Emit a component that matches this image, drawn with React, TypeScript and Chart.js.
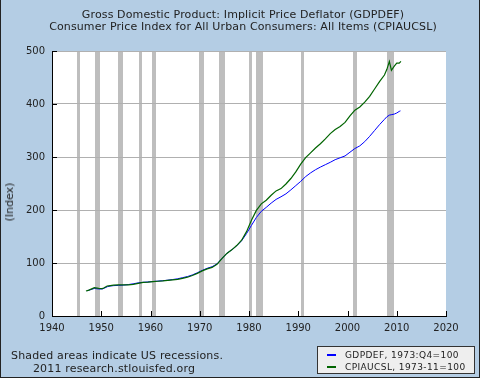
import React, { useEffect, useRef } from "react";
import { Chart, registerables } from "chart.js";
Chart.register(...registerables);

const titleLines = [
  "Gross Domestic Product: Implicit Price Deflator (GDPDEF)",
  "Consumer Price Index for All Urban Consumers: All Items (CPIAUCSL)",
];
const yAxisTitle = "(Index)";
const footnoteLines = ["Shaded areas indicate US recessions.", "2011 research.stlouisfed.org"];
const legendLabels = ["GDPDEF, 1973:Q4=100", "CPIAUCSL, 1973-11=100"];

const xTickValues = [1940, 1950, 1960, 1970, 1980, 1990, 2000, 2010, 2020];
const yTickValues = [0, 100, 200, 300, 400, 500];

const recessionStarts = [1945.08, 1948.83, 1953.5, 1957.58, 1960.25, 1969.92, 1973.83, 1980.0, 1981.5, 1990.5, 2001.17, 2007.92];
const recessionEnds = [1945.75, 1949.75, 1954.33, 1958.25, 1961.08, 1970.83, 1975.17, 1980.5, 1982.83, 1991.17, 2001.83, 2009.42];

const cpiYears = [
  1946.9, 1947.5, 1948.6, 1949.5, 1950.2, 1950.5, 1951.2, 1951.5, 1952.5, 1953.5, 1954.5, 1955.5,
  1956.5, 1957.5, 1958.5, 1959.5, 1960.5, 1961.5, 1962.5, 1963.5, 1964.5, 1965.5, 1966.5, 1967.5,
  1968.5, 1969.5, 1970.5, 1971.5, 1972.5, 1973.5, 1974.5, 1975.5, 1976.5, 1977.5, 1978.5, 1979.5,
  1980.5, 1981.5, 1982.5, 1983.5, 1984.5, 1985.5, 1986.5, 1987.5, 1988.5, 1989.5, 1990.5, 1991.5,
  1992.5, 1993.5, 1994.5, 1995.5, 1996.5, 1997.5, 1998.5, 1999.5, 2000.5, 2001.5, 2002.5, 2003.5,
  2004.5, 2005.5, 2006.5, 2007.5, 2008.0, 2008.5, 2008.92, 2009.5, 2010.0, 2010.5, 2010.85,
];
const cpiValues = [
  47.1, 48.9, 53.5, 52.2, 51.8, 52.9, 56.6, 57.0, 58.1, 58.6, 59.0, 58.8,
  59.6, 61.6, 63.4, 63.8, 64.9, 65.6, 66.2, 67.1, 68.0, 69.1, 71.1, 73.2,
  76.3, 80.5, 85.1, 88.8, 91.7, 97.4, 108.1, 118.0, 124.8, 132.9, 143.0, 159.2,
  180.7, 199.3, 211.6, 218.4, 227.9, 236.0, 240.4, 249.1, 259.4, 271.9, 286.6, 298.7,
  307.7, 316.9, 325.0, 334.2, 344.1, 352.0, 357.5, 365.4, 377.6, 388.4, 394.5, 403.5,
  414.3, 428.3, 442.1, 454.6, 465.4, 480.3, 463.6, 471.5, 477.0, 477.2, 480.5,
];

const gdpYears = [
  1947.1, 1947.6, 1948.6, 1949.5, 1950.2, 1950.6, 1951.3, 1951.8, 1952.5, 1953.5, 1954.5, 1955.5,
  1956.5, 1957.5, 1958.5, 1959.5, 1960.5, 1961.5, 1962.5, 1963.5, 1964.5, 1965.5, 1966.5, 1967.5,
  1968.5, 1969.5, 1970.5, 1971.5, 1972.5, 1973.5, 1974.5, 1975.5, 1976.5, 1977.5, 1978.5, 1979.5,
  1980.5, 1981.5, 1982.5, 1983.5, 1984.5, 1985.5, 1986.5, 1987.5, 1988.5, 1989.5, 1990.5, 1991.5,
  1992.5, 1993.5, 1994.5, 1995.5, 1996.5, 1997.5, 1998.5, 1999.5, 2000.5, 2001.5, 2002.5, 2003.5,
  2004.5, 2005.5, 2006.5, 2007.5, 2008.0, 2008.5, 2009.0, 2009.5, 2010.0, 2010.5, 2010.75,
];
const gdpValues = [
  47.5, 49.0, 52.0, 51.0, 51.0, 52.5, 55.5, 56.5, 57.3, 57.8, 58.3, 59.3,
  60.8, 62.5, 63.6, 64.2, 65.1, 65.8, 66.6, 67.6, 68.8, 70.2, 72.3, 74.4,
  77.5, 81.5, 86.0, 90.0, 93.0, 98.3, 108.5, 118.3, 124.8, 132.5, 142.0, 155.5,
  171.0, 186.0, 197.5, 205.0, 213.0, 220.0, 225.0, 230.5, 238.0, 246.0, 254.0, 263.0,
  270.0, 276.0, 281.0, 285.5, 290.0, 295.0, 298.5, 302.0, 309.0, 316.0, 321.0, 329.0,
  339.0, 350.0, 361.0, 371.0, 376.0, 379.0, 380.0, 381.0, 383.0, 386.0, 387.0,
];

const FONT = "'DejaVu Sans', Verdana, sans-serif";

export default function App() {
  const ref = useRef<HTMLCanvasElement>(null);

  useEffect(() => {
    document.body.style.margin = "0";
    const canvas = ref.current;
    if (!canvas) return;

    const fredPlugin = {
      id: "fredDecor",
      beforeDraw(chart: any) {
        const { ctx, chartArea: a, scales } = chart;
        const xs = scales.x;
        ctx.save();
        ctx.fillStyle = "#ffffff";
        ctx.fillRect(a.left, a.top, a.right - a.left, a.bottom - a.top);
        ctx.fillStyle = "#bebebe";
        for (let i = 0; i < recessionStarts.length; i++) {
          const x0 = Math.round(xs.getPixelForValue(recessionStarts[i]));
          const x1 = Math.round(xs.getPixelForValue(recessionEnds[i]));
          ctx.fillRect(x0, a.top, Math.max(3, x1 - x0), a.bottom - a.top);
        }
        ctx.restore();
      },
      afterDraw(chart: any) {
        const { ctx, chartArea: a, scales } = chart;
        ctx.save();
        ctx.strokeStyle = "#000";
        ctx.lineWidth = 1;
        ctx.beginPath();
        for (const v of xTickValues) {
          const px = Math.round(scales.x.getPixelForValue(v)) + 0.5;
          ctx.moveTo(px, a.bottom);
          ctx.lineTo(px, a.bottom - 5);
        }
        for (const v of yTickValues) {
          const py = Math.round(scales.y.getPixelForValue(v)) + 0.5;
          ctx.moveTo(a.left, py);
          ctx.lineTo(a.left + 5, py);
        }
        ctx.stroke();
        ctx.restore();
      },
    };

    const chart = new Chart(canvas, {
      type: "line",
      data: {
        datasets: [
          {
            label: legendLabels[0],
            data: gdpYears.map((x, i) => ({ x, y: gdpValues[i] })),
            borderColor: "#0000ff",
            borderWidth: 1,
            pointRadius: 0,
            tension: 0,
            fill: false,
            order: 2,
          },
          {
            label: legendLabels[1],
            data: cpiYears.map((x, i) => ({ x, y: cpiValues[i] })),
            borderColor: "#006400",
            borderWidth: 1.2,
            pointRadius: 0,
            tension: 0,
            fill: false,
            order: 1,
          },
        ],
      },
      options: {
        animation: false,
        responsive: false,
        events: [],
        layout: { padding: { left: 0, top: 51, right: 34, bottom: 0 } },
        plugins: { legend: { display: false }, title: { display: false }, tooltip: { enabled: false } },
        scales: {
          x: {
            type: "linear",
            min: 1940,
            max: 2020,
            afterFit: (s: any) => { s.height = 62; },
            afterBuildTicks: (s: any) => { s.ticks = xTickValues.map((v) => ({ value: v })); },
            ticks: { color: "#222", font: { family: FONT, size: 10 }, padding: 6, maxRotation: 0, autoSkip: false, callback: (v: any) => String(v) },
            grid: { display: false, drawTicks: false },
            border: { display: true, color: "#000", width: 1 },
          },
          y: {
            type: "linear",
            min: 0,
            max: 500,
            afterFit: (s: any) => { s.width = 52; },
            afterBuildTicks: (s: any) => { s.ticks = yTickValues.map((v) => ({ value: v })); },
            ticks: { color: "#222", font: { family: FONT, size: 10 }, padding: 7, callback: (v: any) => String(v) },
            grid: { color: "#b0b0b0", lineWidth: 1, drawTicks: false },
            border: { display: true, color: "#000", width: 1 },
          },
        },
      },
      plugins: [fredPlugin],
    } as any);

    return () => chart.destroy();
  }, []);

  const textStyle: React.CSSProperties = { position: "absolute", fontFamily: FONT, fontSize: 11, color: "#222", whiteSpace: "nowrap", lineHeight: "12px" };

  return (
    <div style={{ position: "relative", width: 480, height: 378, background: "rgb(180,205,228)", overflow: "hidden" }}>
      <canvas ref={ref} width={480} height={378} style={{ position: "absolute", left: 0, top: 0, width: 480, height: 378 }} />
      <div style={{ ...textStyle, left: 3, width: 480, top: 9, textAlign: "center", letterSpacing: "0.13px" }}>
        {titleLines.map((t) => (<div key={t}>{t}</div>))}
      </div>
      <div style={{ ...textStyle, left: 10, top: 202, transform: "translate(-50%, -50%) rotate(-90deg)" }}>{yAxisTitle}</div>
      <div style={{ ...textStyle, left: 11, width: 206, top: 349, textAlign: "center", lineHeight: "13px", letterSpacing: "0.17px" }}>
        {footnoteLines.map((t) => (<div key={t}>{t}</div>))}
      </div>
      <div style={{ position: "absolute", left: 317, top: 346, width: 158, height: 28, boxSizing: "border-box", border: "1px solid #333", background: "#eeeeee" }}>
        {legendLabels.map((t, i) => (
          <div key={t} style={{ position: "absolute", left: 0, top: 2 + i * 12, height: 12, width: 156 }}>
            <div style={{ position: "absolute", left: 9, top: 5, width: 9, height: 2, background: i === 0 ? "#0000ff" : "#006400" }} />
            <div style={{ position: "absolute", left: 27, top: 0, fontFamily: FONT, fontSize: 9, lineHeight: "12px", color: "#222", whiteSpace: "nowrap", letterSpacing: "0.4px" }}>{t}</div>
          </div>
        ))}
      </div>
      <div style={{ position: "absolute", left: 0, top: 0, width: 480, height: 378, boxSizing: "border-box", borderLeft: "1px solid #222", borderRight: "1px solid #222", borderBottom: "1px solid #222", pointerEvents: "none" }} />
    </div>
  );
}
